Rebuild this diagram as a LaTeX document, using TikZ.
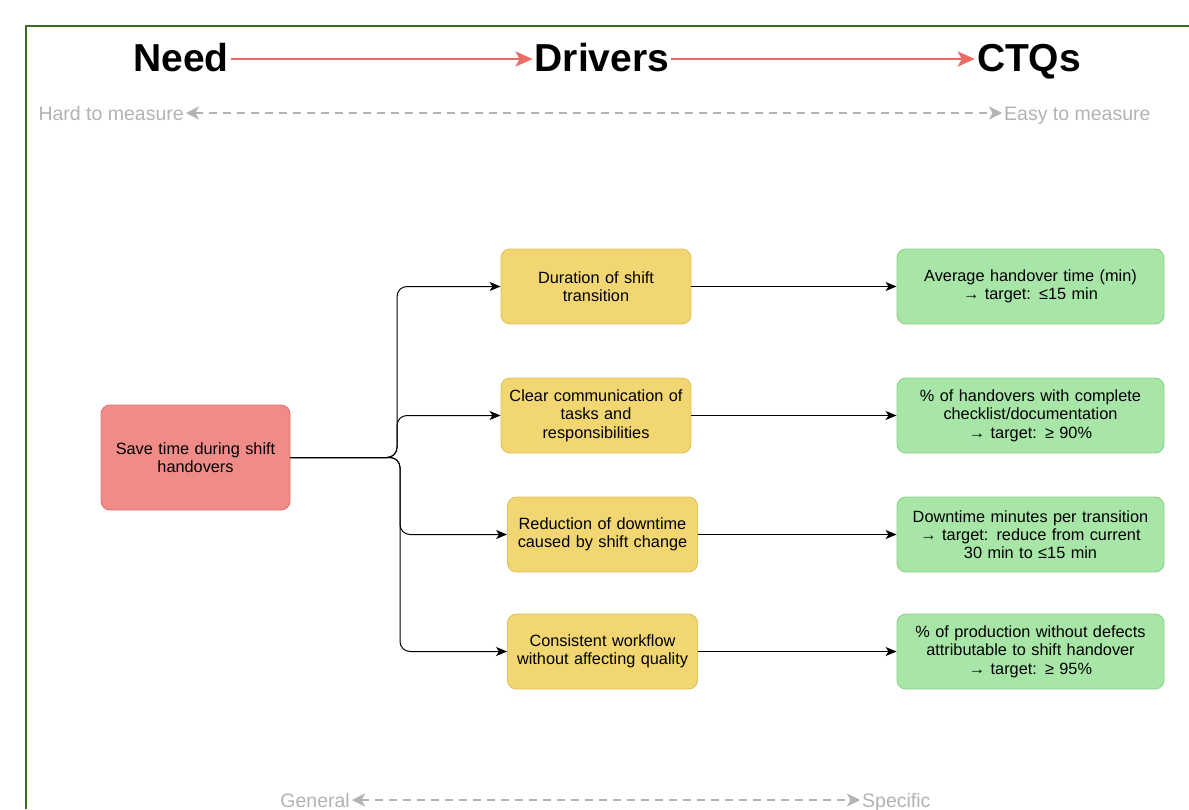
\documentclass[tikz,border=0pt]{standalone}
\usepackage{fontspec}
\setmainfont{Liberation Sans}
\usetikzlibrary{arrows.meta}
\definecolor{framegreen}{HTML}{3E6B26}
\definecolor{needfill}{HTML}{F08C87}
\definecolor{needline}{HTML}{E3736E}
\definecolor{drvfill}{HTML}{F2D671}
\definecolor{drvline}{HTML}{E2C15A}
\definecolor{ctqfill}{HTML}{A8E6A8}
\definecolor{ctqline}{HTML}{8AD18A}
\definecolor{headarrow}{HTML}{EA6B66}
\definecolor{hintgray}{HTML}{B3B3B3}
\tikzset{
  box/.style={draw, line width=0.9pt, rounded corners=9pt, align=center,
    font=\fontsize{16.3}{18.3}\selectfont, inner sep=0pt},
  needbox/.style={box, fill=needfill, draw=needline, minimum width=189pt, minimum height=105pt, text width=180pt},
  drvbox/.style={box, fill=drvfill, draw=drvline, minimum width=190pt, minimum height=75pt, text width=186pt},
  ctqbox/.style={box, fill=ctqfill, draw=ctqline, minimum width=267pt, minimum height=75pt, text width=262pt},
  heading/.style={font=\fontsize{39}{44}\selectfont\bfseries, inner sep=2pt, anchor=base},
  hint/.style={text=hintgray, font=\fontsize{19.5}{22}\selectfont, inner sep=2pt},
  headarr/.style={draw=headarrow, line width=2.4pt, -{Stealth[length=17pt,width=15pt,inset=4pt]}},
  hintarr/.style={draw=hintgray, line width=1.6pt, dash pattern=on 8pt off 6pt,
    {Stealth[length=13pt,width=13pt,inset=3.5pt]}-{Stealth[length=13pt,width=13pt,inset=3.5pt]}},
  link/.style={draw=black, line width=1pt, rounded corners=10pt, -{Stealth[length=11pt,width=9pt,inset=3pt]}}
}
\begin{document}
\begin{tikzpicture}[x=1pt, y=-1pt]
\useasboundingbox (0,0) rectangle (1189,809);
\fill[white] (0,0) rectangle (1189,809);
% outer frame, open towards the right and bottom edges
\draw[framegreen, line width=1.6pt] (1189,26) -- (26,26) -- (26,809);

% column headings
\node[heading] (hneed) at (181,71.5) {Need};
\node[heading] (hdrv) at (602,71.5) {Drivers};
\node[heading] (hctq) at (1029,71.5) {CTQs};
\draw[headarr] (hneed.east |- 0,59) -- (hdrv.west |- 0,59);
\draw[headarr] (hdrv.east |- 0,59) -- (hctq.west |- 0,59);

% measurability scale
\node[hint, anchor=base east] (hard) at (186,120) {Hard to measure};
\node[hint, anchor=base west] (easy) at (1002,120) {Easy to measure};
\draw[hintarr] (hard.east |- 0,113) -- (easy.west |- 0,113);

% specificity scale
\node[hint, anchor=base east] (gen) at (352,807) {General};
\node[hint, anchor=base west] (spec) at (860,807) {Specific};
\draw[hintarr] (gen.east |- 0,800) -- (spec.west |- 0,800);

% need
\node[needbox] (need) at (195.5,457.5) {Save time during shift\\handovers};

% drivers
\node[drvbox] (d1) at (596,286.5) {Duration of shift\\transition};
\node[drvbox] (d2) at (596,415.5) {Clear communication of\\tasks and\\responsibilities};
\node[drvbox] (d3) at (602.5,534.5) {Reduction of downtime\\caused by shift change};
\node[drvbox] (d4) at (602.5,651.5) {Consistent workflow\\without affecting quality};

% CTQs
\node[ctqbox] (c1) at (1030.5,286.5) {Average handover time (min)\\→ target: ≤15 min};
\node[ctqbox] (c2) at (1030.5,415.5) {\% of handovers with complete\\checklist/documentation\\→ target: ≥ 90\%};
\node[ctqbox] (c3) at (1030.5,534.5) {Downtime minutes per transition\\→ target: reduce from current\\30 min to ≤15 min};
\node[ctqbox] (c4) at (1030.5,651.5) {\% of production without defects\\attributable to shift handover\\→ target: ≥ 95\%};

% branching connectors
\coordinate (ju) at (397,457.5);
\coordinate (jd) at (400,457.5);
\draw[link] (need.east) -- (ju) |- (d1.west);
\draw[link] (need.east) -- (ju) |- (d2.west);
\draw[link] (need.east) -- (jd) |- (d3.west);
\draw[link] (need.east) -- (jd) |- (d4.west);

\draw[link] (d1.east) -- (c1.west);
\draw[link] (d2.east) -- (c2.west);
\draw[link] (d3.east) -- (c3.west);
\draw[link] (d4.east) -- (c4.west);
\end{tikzpicture}
\end{document}
